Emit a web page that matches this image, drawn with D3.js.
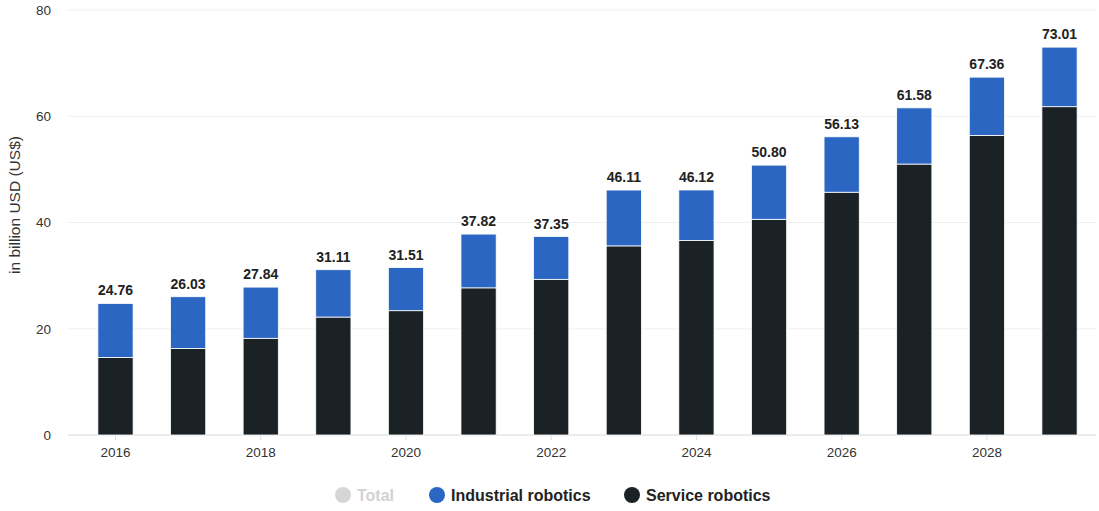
<!DOCTYPE html>
<html><head><meta charset="utf-8">
<script src="https://cdn.jsdelivr.net/npm/d3@7"></script>
<style>
body{margin:0;background:#fff;font-family:"Liberation Sans",Arial,sans-serif;}
</style></head>
<body><svg id="c" width="1099" height="511"></svg>
<script>
const years = [2016,2017,2018,2019,2020,2021,2022,2023,2024,2025,2026,2027,2028,2029];
const totals = [24.76,26.03,27.84,31.11,31.51,37.82,37.35,46.11,46.12,50.80,56.13,61.58,67.36,73.01];
const service = [14.6,16.3,18.2,22.2,23.4,27.7,29.3,35.6,36.6,40.6,45.7,51.0,56.4,61.8];
const industrial = totals.map((t,i)=>+(t-service[i]).toFixed(2));
const yTicks = [0,20,40,60,80];
const xTickYears = [2016,2018,2020,2022,2024,2026,2028];
const seriesNames = ["Total","Industrial robotics","Service robotics"];
const colors = {"Industrial robotics":"#2b66c2","Service robotics":"#1b2226"};

const svg = d3.select("#c");
const x = d3.scaleBand().domain(years).range([79,1096]).paddingInner(0.515).paddingOuter(0.26);
const y = d3.scaleLinear().domain([0,80]).range([435,10]);

// grid
svg.append("g").selectAll("line").data(yTicks).join("line")
  .attr("x1",68).attr("x2",1096).attr("y1",d=>y(d)).attr("y2",d=>y(d))
  .attr("stroke",d=>d===0?"#d8d8d8":"#f0f0f0").attr("stroke-width",1);

// y axis
const ya = svg.append("g").attr("transform","translate(51,0)")
  .call(d3.axisLeft(y).tickValues(yTicks).tickSize(0).tickPadding(0));
ya.select(".domain").remove();
ya.selectAll("text").attr("font-size",13.5).attr("fill","#333").attr("font-family","Liberation Sans, Arial");

svg.append("text").attr("transform","translate(20,205) rotate(-90)")
  .attr("text-anchor","middle").attr("font-size",15.5).attr("fill","#333")
  .text("in billion USD (US$)");

// x axis
const xa = svg.append("g").attr("transform","translate(0,435)")
  .call(d3.axisBottom(x).tickValues(xTickYears).tickSize(5).tickPadding(7));
xa.select(".domain").remove();
xa.selectAll(".tick line").attr("stroke","#ddd");
xa.selectAll("text").attr("font-size",13.5).attr("fill","#333").attr("font-family","Liberation Sans, Arial");

// stacked bars
const rows = years.map((yr,i)=>({year:yr,"Service robotics":service[i],"Industrial robotics":industrial[i]}));
const stack = d3.stack().keys(["Service robotics","Industrial robotics"])(rows);
svg.append("g").selectAll("g").data(stack).join("g")
  .attr("fill",d=>colors[d.key])
  .selectAll("rect").data(d=>d).join("rect")
  .attr("x",d=>x(d.data.year)).attr("width",x.bandwidth())
  .attr("y",d=>y(d[1])).attr("height",d=>y(d[0])-y(d[1]))
  .attr("stroke","#fff").attr("stroke-width",0.8);

// totals labels
svg.append("g").selectAll("text").data(years).join("text")
  .attr("x",d=>x(d)+x.bandwidth()/2).attr("y",(d,i)=>y(totals[i])-8)
  .attr("text-anchor","middle").attr("font-size",14).attr("font-weight","bold").attr("fill","#222")
  .text((d,i)=>totals[i].toFixed(2));

// legend
const legend = svg.append("g");
const items = [
  {name:seriesNames[0],cx:343,fill:"#d6d6d6",tc:"#d2d2d2"},
  {name:seriesNames[1],cx:437,fill:colors["Industrial robotics"],tc:"#222"},
  {name:seriesNames[2],cx:632,fill:colors["Service robotics"],tc:"#222"}
];
items.forEach(it=>{
  legend.append("circle").attr("cx",it.cx).attr("cy",495).attr("r",8).attr("fill",it.fill);
  legend.append("text").attr("x",it.cx+14).attr("y",501).attr("font-size",16).attr("font-weight","bold")
    .attr("fill",it.tc).text(it.name);
});
</script></body></html>
